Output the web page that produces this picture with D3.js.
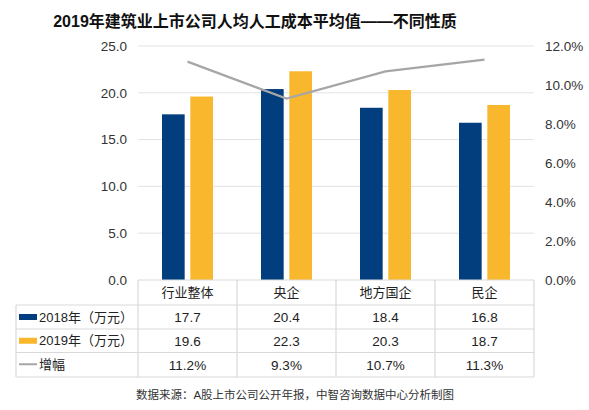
<!DOCTYPE html>
<html>
<head>
<meta charset="utf-8">
<script src="https://cdn.jsdelivr.net/npm/d3@7"></script>
<style>
  html, body { margin: 0; padding: 0; background: #fff; }
  svg text { font-family: "Liberation Sans", Arial, "Noto Sans CJK SC", sans-serif; }
</style>
</head>
<body>
<div id="chart"></div>
<script>
// 数据
const categories = ["行业整体", "央企", "地方国企", "民企"];
const cost2018 = [17.7, 20.4, 18.4, 16.8];
const cost2019 = [19.6, 22.3, 20.3, 18.7];
const growth = [0.112, 0.093, 0.107, 0.113];
const leftTicks = [0, 5, 10, 15, 20, 25];
const rightTicks = [0, 0.02, 0.04, 0.06, 0.08, 0.10, 0.12];
const rowLabels = ["2018年（万元）", "2019年（万元）", "增幅"];

const BLUE = "#023e7d", GOLD = "#f8b72d", GREY = "#a6a6a6", LINE = "#d9d9d9";

const W = 589, H = 410;
const px0 = 138, px1 = 534, py0 = 280, py1 = 46;
const rows = [280, 305, 329, 352.5, 377];   // 表格行线
const tableLeft = 16;

const svg = d3.select("#chart").append("svg").attr("width", W).attr("height", H);

const x = d3.scaleBand().domain(categories).range([px0, px1]);
const bw = x.bandwidth();
const x1 = d3.scaleBand().domain([0, 1]).range([bw / 2 - 25.5, bw / 2 + 25.5]).paddingInner(0.2);
const y = d3.scaleLinear().domain([0, 25]).range([py0, py1]);
const y2 = d3.scaleLinear().domain([0, 0.12]).range([py0, py1]);

// 标题
svg.append("text").attr("x", 255).attr("y", 27).attr("text-anchor", "middle")
  .attr("fill", "#111").style("font-size", "16px").style("font-weight", "bold")
  .text("2019年建筑业上市公司人均人工成本平均值——不同性质");

// 网格线
svg.append("g").selectAll("line").data(leftTicks.filter((d) => d > 0)).join("line")
  .attr("x1", px0).attr("x2", px1).attr("y1", (d) => y(d)).attr("y2", (d) => y(d))
  .attr("stroke", "#e3e3e3").attr("stroke-width", 1);

// 左轴
svg.append("g").selectAll("text").data(leftTicks).join("text")
  .attr("x", 127).attr("y", (d) => y(d)).attr("dy", "0.35em").attr("text-anchor", "end")
  .attr("fill", "#333").style("font-size", "13.5px").text((d) => d.toFixed(1));

// 右轴
svg.append("g").selectAll("text").data(rightTicks).join("text")
  .attr("x", 545).attr("y", (d) => y2(d)).attr("dy", "0.35em").attr("text-anchor", "start")
  .attr("fill", "#333").style("font-size", "13.5px").text((d) => (d * 100).toFixed(1) + "%");

// 柱
const series = [cost2018, cost2019];
const colors = [BLUE, GOLD];
series.forEach((vals, s) => {
  svg.append("g").selectAll("rect").data(vals).join("rect")
    .attr("x", (d, i) => x(categories[i]) + x1(s)).attr("width", x1.bandwidth())
    .attr("y", (d) => y(d)).attr("height", (d) => py0 - y(d))
    .attr("fill", colors[s]);
});

// 增幅折线
const line = d3.line().x((d, i) => x(categories[i]) + bw / 2).y((d) => y2(d));
svg.append("path").datum(growth).attr("fill", "none").attr("stroke", GREY)
  .attr("stroke-width", 2.2).attr("d", line);

// 数据表
const tg = svg.append("g");
rows.forEach((ry, i) => {
  tg.append("line").attr("x1", i === 0 ? px0 : tableLeft).attr("x2", px1)
    .attr("y1", ry).attr("y2", ry).attr("stroke", LINE).attr("stroke-width", 1.2);
});
tg.append("line").attr("x1", tableLeft).attr("x2", tableLeft).attr("y1", rows[1]).attr("y2", rows[4])
  .attr("stroke", LINE).attr("stroke-width", 1.2);
categories.concat([null]).forEach((c, i) => {
  const vx = c ? x(c) : px1;
  tg.append("line").attr("x1", vx).attr("x2", vx).attr("y1", rows[0]).attr("y2", rows[4])
    .attr("stroke", LINE).attr("stroke-width", 1.2);
});
const rowMid = (i) => (rows[i] + rows[i + 1]) / 2;

// 表头
tg.selectAll("text.cat").data(categories).join("text").attr("class", "cat")
  .attr("x", (d) => x(d) + bw / 2).attr("y", rowMid(0)).attr("dy", "0.36em")
  .attr("text-anchor", "middle").attr("fill", "#222").style("font-size", "13px").text((d) => d);

// 表内数值
const tableVals = [cost2018.map((d) => d.toFixed(1)), cost2019.map((d) => d.toFixed(1)),
  growth.map((d) => (d * 100).toFixed(1) + "%")];
tableVals.forEach((vals, r) => {
  tg.append("g").selectAll("text").data(vals).join("text")
    .attr("x", (d, i) => x(categories[i]) + bw / 2).attr("y", rowMid(r + 1)).attr("dy", "0.36em")
    .attr("text-anchor", "middle").attr("fill", "#222").style("font-size", "13.5px").text((d) => d);
});

// 行标签与图例
rowLabels.forEach((lab, r) => {
  const cy = rowMid(r + 1);
  if (r < 2) {
    tg.append("rect").attr("x", 19).attr("y", cy - 3).attr("width", 18).attr("height", 6).attr("fill", colors[r]);
  } else {
    tg.append("line").attr("x1", 19).attr("x2", 37).attr("y1", cy - 0.5).attr("y2", cy - 0.5)
      .attr("stroke", GREY).attr("stroke-width", 2);
  }
  tg.append("text").attr("x", 39).attr("y", cy).attr("dy", "0.36em").attr("fill", "#222")
    .style("font-size", "13px").text(lab);
});

// 来源
svg.append("text").attr("x", 295).attr("y", 395).attr("dy", "0.35em").attr("text-anchor", "middle")
  .attr("fill", "#333").style("font-size", "11.5px")
  .text("数据来源：A股上市公司公开年报，中智咨询数据中心分析制图");
</script>
</body>
</html>
